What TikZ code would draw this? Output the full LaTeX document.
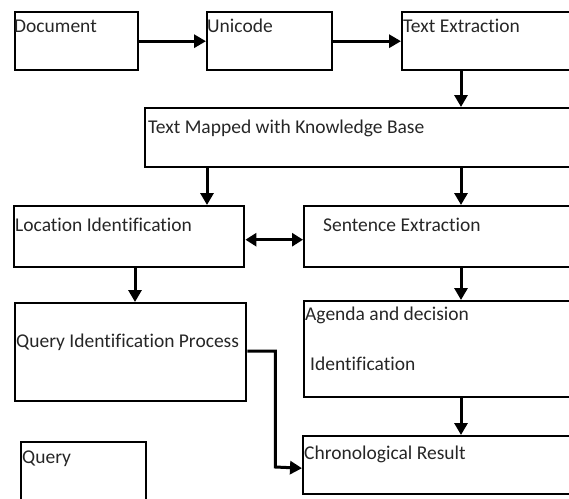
\documentclass[tikz,border=0pt]{standalone}
\usepackage{fontspec}
\setmainfont{Carlito}[Ligatures={NoCommon}]
\usetikzlibrary{arrows.meta,calc}
\begin{document}
\begin{tikzpicture}[x=1pt,y=-1pt,
  box/.style={draw, line width=2.4pt, anchor=north west, inner sep=0pt},
  txt/.style={anchor=base west, inner sep=0pt, font=\fontsize{19.5}{22}\selectfont, text=black!85},
  arr/.style={line width=3pt, -{Triangle[length=12pt,width=13pt]}},
  darr/.style={line width=3pt, {Triangle[length=11pt,width=13pt]}-{Triangle[length=11pt,width=13pt]}}]
\useasboundingbox (0,0) rectangle (569,498);
\clip (0,0) rectangle (569,498);
% boxes
\node[box, minimum width=123pt, minimum height=58pt] (doc) at (14,11) {};
\node[box, minimum width=125pt, minimum height=58pt] (uni) at (206,11) {};
\node[box, minimum width=180pt, minimum height=58pt] (tex) at (401,11) {};
\node[box, minimum width=440pt, minimum height=59pt] (tmk) at (144,107) {};
\node[box, minimum width=230pt, minimum height=61pt] (loc) at (13,205) {};
\node[box, minimum width=280pt, minimum height=61pt] (sen) at (303,205) {};
\node[box, minimum width=231pt, minimum height=98pt] (qip) at (14,302) {};
\node[box, minimum width=280pt, minimum height=96pt] (agd) at (303,300) {};
\node[box, minimum width=280pt, minimum height=58pt] (chr) at (302,435) {};
\node[box, minimum width=125pt, minimum height=70pt] (qry) at (20,441) {};
% texts
\node[txt] (tdoc) at (14,32) {Document};
\node[txt] (tuni) at (207,32) {Unicode};
\node[txt] (ttex) at (403,32) {Text Extraction};
\node[txt] (ttmk) at (148,133) {Text Mapped with Knowledge Base};
\node[txt] (tloc) at (15,231) {Location Identification};
\node[txt] (tsen) at (323,231) {Sentence Extraction};
\node[txt] (tqip) at (16,347) {Query Identification Process};
\node[txt] (tagd1) at (305,320) {Agenda and decision};
\node[txt] (tagd2) at (310,370) {Identification};
\node[txt] (tchr) at (304,459) {Chronological Result};
\node[txt] (tqry) at (22,463) {Query};
% column coordinates
\coordinate (cR) at (461,0);
\coordinate (cL) at (207,0);
\coordinate (cQ) at (135,0);
% connectors
\draw[arr] (doc.east) -- (uni.west);
\draw[arr] (uni.east) -- (tex.west);
\draw[arr] (tex.south -| cR) -- (tmk.north -| cR);
\draw[arr] (tmk.south -| cL) -- (loc.north -| cL);
\draw[arr] (tmk.south -| cR) -- (sen.north -| cR);
\draw[darr] ($(loc.east)+(0,3)$) -- ($(sen.west)+(0,3)$);
\draw[arr] (loc.south -| cQ) -- (qip.north -| cQ);
\draw[arr] (sen.south -| cR) -- (agd.north -| cR);
\draw[arr] (agd.south -| cR) -- (chr.north -| cR);
\draw[arr] ($(qip.north east)+(0,49)$) -| ($(qip.north east)+(28,165)$) -- ($(chr.west)+(0,3)$);
\end{tikzpicture}
\end{document}
